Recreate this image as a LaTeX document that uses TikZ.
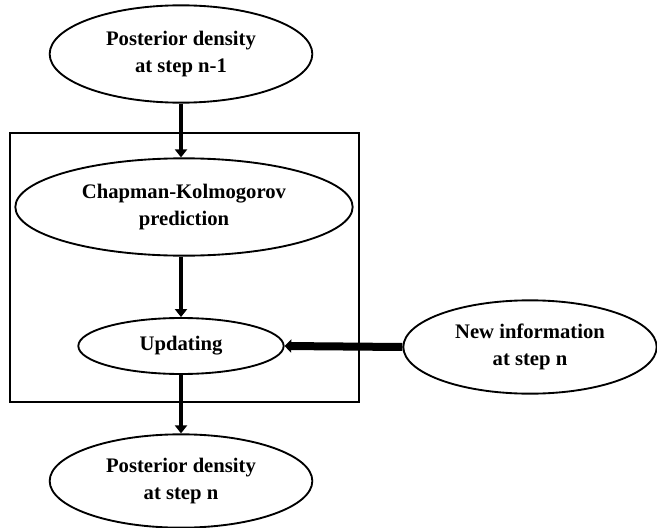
\documentclass[tikz,border=0pt]{standalone}
\usepackage{fontspec}
\setmainfont{Liberation Serif}
\usetikzlibrary{positioning,shapes.geometric,arrows.meta}

\begin{document}
\begin{tikzpicture}[x=0.75pt,y=-0.75pt]
		\tikzstyle{blob}=[draw=black, line width=1.4pt, ellipse, inner sep=0pt, align=center, font=\fontsize{15.5}{20}\selectfont\bfseries]
		\tikzstyle{flow}=[line width=2.4pt, -{Triangle[width=9pt,length=6pt]}]
		\tikzstyle{bigflow}=[line width=6pt, -{Triangle[width=10pt,length=5pt]}]
		\useasboundingbox (0,0) rectangle (657,528);
		\draw [black, line width=1.5pt] (10,133) rectangle (359,402);
		\node [blob, minimum width=197pt, minimum height=73pt] (prior) at (181,54) {Posterior density\\at step n-1};
		\node [blob, minimum width=253pt, minimum height=73pt] (chapman) at (184,207) {Chapman-Kolmogorov\\prediction};
		\node [blob, minimum width=154pt, minimum height=42pt] (update) at (181,346) {Updating};
		\node [blob, minimum width=190pt, minimum height=70pt] (newinfo) at (530,347) {New information\\at step n};
		\node [blob, minimum width=197pt, minimum height=70pt] (post) at (181,481) {Posterior density\\at step n};
		\draw [flow] (prior.south) -- (prior.south |- chapman.north);
		\draw [flow] (chapman.south -| update.north) -- (update.north);
		\draw [flow] (update.south) -- (post.north);
		\draw [bigflow] (newinfo.west) -- (update.east);
\end{tikzpicture}
\end{document}
